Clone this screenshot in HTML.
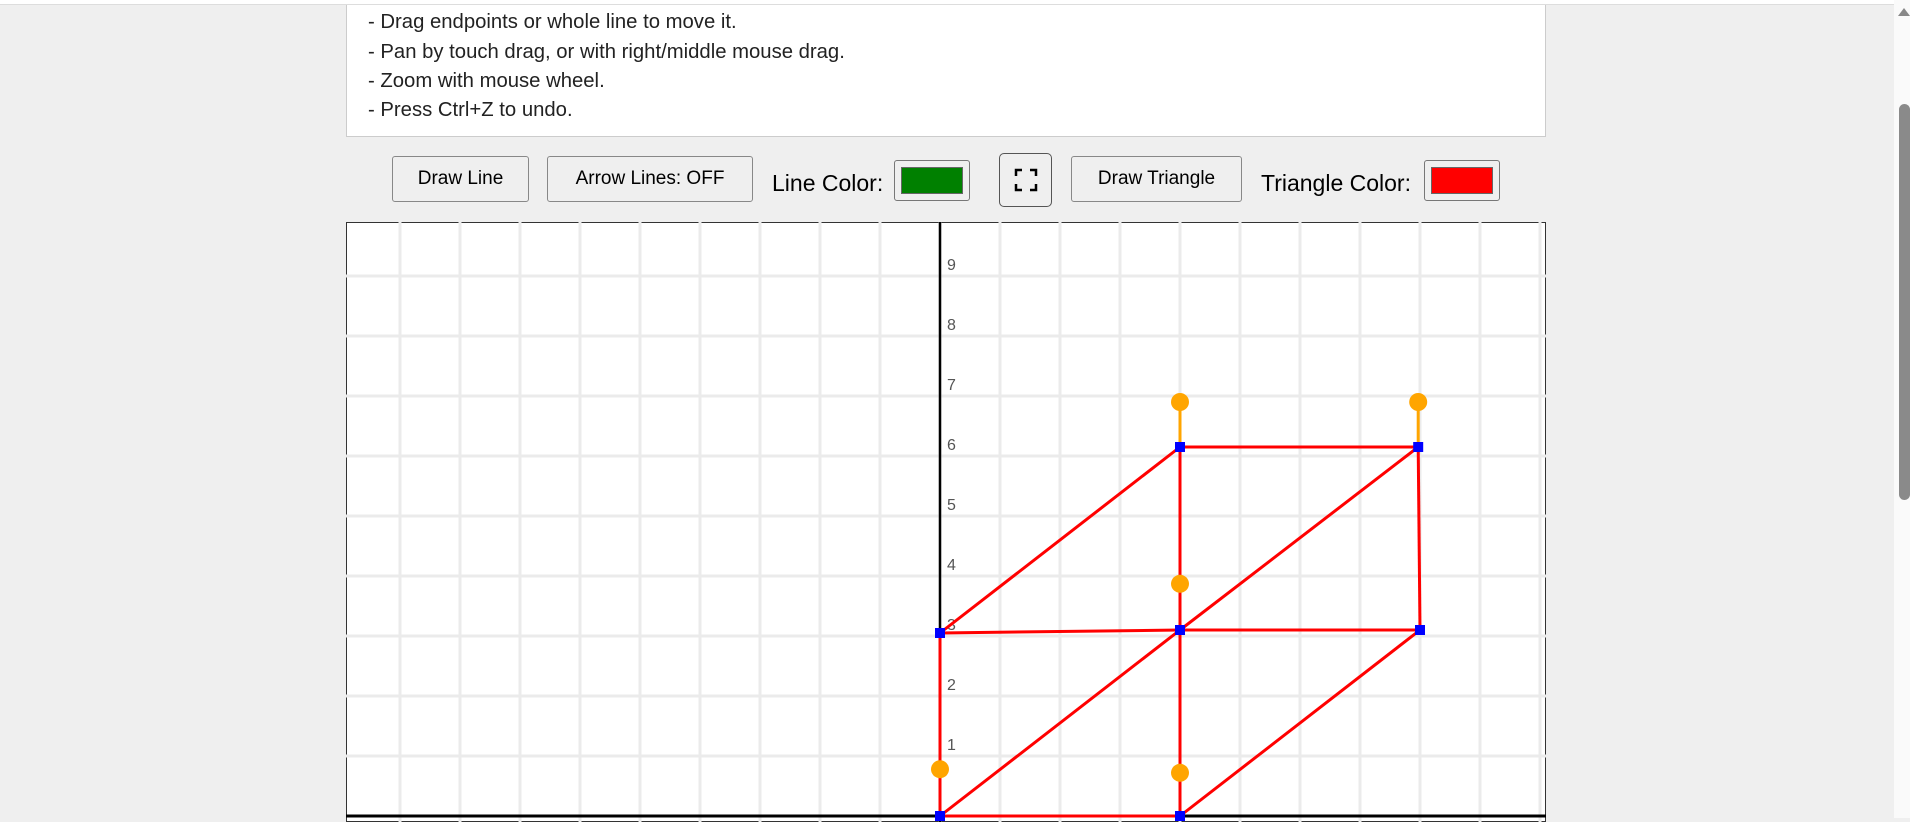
<!DOCTYPE html>
<html><head><meta charset="utf-8"><style>
body{margin:0;width:1910px;height:818px;overflow:hidden;background:#efefef;font-family:"Liberation Sans",Arial,sans-serif;position:relative}
.topline{position:absolute;left:0;top:0;width:1894px;height:4px;background:#fff;border-bottom:1px solid #ddd}
.info{position:absolute;left:346px;top:5px;width:1198px;height:131px;background:#fff;border:1px solid #ccc;border-top:none}
.info div{position:absolute;left:21px;font-size:20.3px;color:#222}
.btn{position:absolute;top:156px;height:46px;box-sizing:border-box;border:1px solid #888;border-radius:3px;background:#efefef;font-size:19px;display:flex;align-items:center;justify-content:center;color:#000}
.lbl{position:absolute;top:170px;font-size:23px;color:#000}
.sw{position:absolute;top:160px;width:76px;height:41px;box-sizing:border-box;border:1px solid #777;border-radius:3px;background:#efefef;padding:6px}
.sw div{width:100%;height:100%;border:1px solid #666;box-sizing:border-box}
.scroll{position:absolute;left:1894px;top:0;width:16px;height:818px;background:#fafafa}
.thumb{position:absolute;left:1899px;top:104px;width:11px;height:396px;background:#8a8a8a;border-radius:6px}
</style></head><body>
<div class="topline"></div>
<div class="info">
<div style="top:6px">- Drag endpoints or whole line to move it.</div>
<div style="top:36px">- Pan by touch drag, or with right/middle mouse drag.</div>
<div style="top:65px">- Zoom with mouse wheel.</div>
<div style="top:94px">- Press Ctrl+Z to undo.</div>
</div>
<div class="btn" style="left:392px;width:137px">Draw Line</div>
<div class="btn" style="left:547px;width:206px">Arrow Lines: OFF</div>
<div class="lbl" style="left:772px">Line Color:</div>
<div class="sw" style="left:894px"><div style="background:#008000"></div></div>
<div class="btn" style="left:999px;top:153px;width:53px;height:54px;border-radius:5px;border-color:#555">
<svg width="24" height="24" viewBox="0 0 24 24"><path d="M2 8V2h6M16 2h6v6M22 16v6h-6M8 22H2v-6" fill="none" stroke="#000" stroke-width="2.5"/></svg></div>
<div class="btn" style="left:1071px;width:171px">Draw Triangle</div>
<div class="lbl" style="left:1261px">Triangle Color:</div>
<div class="sw" style="left:1424px"><div style="background:#ff0000"></div></div>
<svg id="chart" style="position:absolute;left:346px;top:222px" width="1200" height="600"></svg>
<div class="scroll"></div>
<div class="thumb"></div>
<div style="position:absolute;left:1898px;top:8px;width:0;height:0;border-left:6px solid transparent;border-right:6px solid transparent;border-bottom:8px solid #888"></div>
<script>
const yTicks=[1,2,3,4,5,6,7,8,9];
const ptX=[0,0,4,4,4,7.97,8];
const ptY=[0,3.05,3.1,0,6.15,6.15,3.1];
const segA=[0,1,0,2,0,3,2,2,1,4,2,5];
const segB=[1,2,2,3,3,6,6,4,4,5,5,6];
const handleVertex=[4,5,2,0,3];
const handleY=[6.9,6.9,3.87,0.78,0.72];
const NS="http://www.w3.org/2000/svg";
const svg=document.getElementById('chart');
const X0=594,Y0=594,U=60;
const sx=v=>X0+v*U, sy=v=>Y0-v*U;
function mk(t,a){const e=document.createElementNS(NS,t);for(const k in a)e.setAttribute(k,a[k]);svg.appendChild(e);return e;}
mk('rect',{x:0.5,y:0.5,width:1199,height:599,fill:'#fff',stroke:'#333'});
for(let i=-9;i<=10;i++){const g=mk('line',{x1:sx(i),x2:sx(i),y1:0,y2:600,stroke:'#ebebeb','stroke-width':3});
}
for(let j=0;j<=10;j++){const g=mk('line',{x1:0,x2:1200,y1:sy(j),y2:sy(j),stroke:'#ebebeb','stroke-width':3});
}
const ya=mk('line',{x1:sx(0),x2:sx(0),y1:0,y2:600,stroke:'#000','stroke-width':2.5});

const xa=mk('line',{x1:0,x2:1200,y1:Y0,y2:Y0,stroke:'#000','stroke-width':3});

yTicks.forEach(v=>{const t=mk('text',{x:sx(0)+7,y:sy(v)-6,'font-size':16,fill:'#555','font-family':'Liberation Sans, sans-serif'});t.textContent=v;
});
handleVertex.forEach((vi,k)=>{const l=mk('line',{x1:sx(ptX[vi]),y1:sy(ptY[vi]),x2:sx(ptX[vi]),y2:sy(handleY[k]),stroke:'orange','stroke-width':3});
});
segA.forEach((a,i)=>{const b=segB[i];const l=mk('line',{x1:sx(ptX[a]),y1:sy(ptY[a]),x2:sx(ptX[b]),y2:sy(ptY[b]),stroke:'red','stroke-width':3});
});
handleVertex.forEach((vi,k)=>{const c=mk('circle',{cx:sx(ptX[vi]),cy:sy(handleY[k]),r:9,fill:'orange'});
});
ptX.forEach((x,i)=>{const r=mk('rect',{x:sx(x)-5,y:sy(ptY[i])-5,width:10,height:10,fill:'blue'});
});
</script>
</body></html>
